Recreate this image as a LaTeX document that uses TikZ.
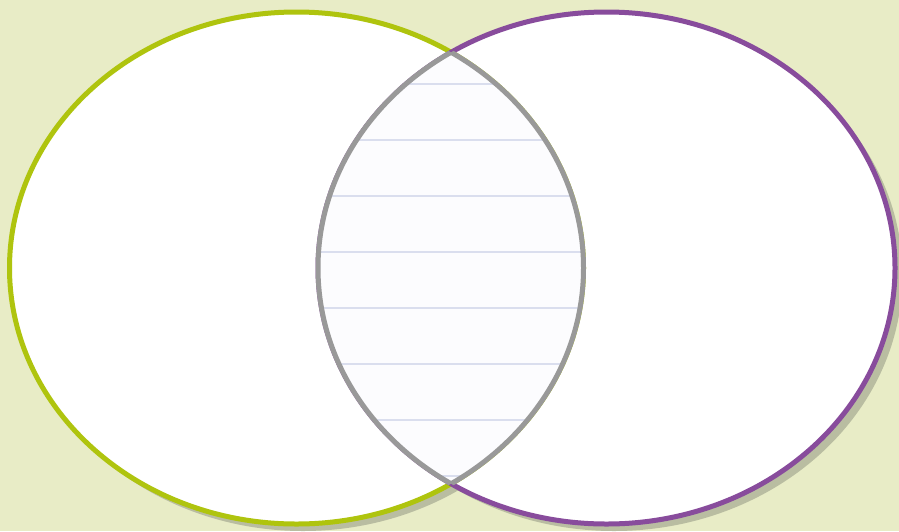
\documentclass[tikz,border=0pt]{standalone}
\definecolor{bgc}{HTML}{E8ECC6}
\definecolor{shc}{HTML}{B9BDA1}
\definecolor{grn}{HTML}{AFC40E}
\definecolor{prp}{HTML}{884C9C}
\definecolor{gry}{HTML}{999999}
\definecolor{rule}{HTML}{DADEEE}
\definecolor{paper}{HTML}{FCFCFE}
\tikzset{
  ring/.style={line width=5pt},
}
\begin{document}
\begin{tikzpicture}[x=1pt,y=-1pt]
\useasboundingbox (0,0) rectangle (899,531);
\fill[bgc] (0,0) rectangle (899,531);
\coordinate (L) at (296.5,268);
\coordinate (R) at (606.5,268);
\coordinate (Ls) at (303,275);
\coordinate (Rs) at (614,275);
% shadows
\fill[shc] (Ls) ellipse [x radius=287, y radius=256];
\fill[shc] (Rs) ellipse [x radius=288.5, y radius=256];
% circles
\fill[white] (L) ellipse [x radius=287, y radius=256];
\fill[white] (R) ellipse [x radius=288.5, y radius=256];
\draw[ring, grn] (L) ellipse [x radius=287, y radius=256];
\draw[ring, prp] (R) ellipse [x radius=288.5, y radius=256];
% lens
\begin{scope}
  \clip (L) ellipse [x radius=287, y radius=256];
  \fill[paper] (R) ellipse [x radius=288.5, y radius=256];
  \begin{scope}
    \clip (R) ellipse [x radius=288.5, y radius=256];
    \foreach \yy in {84,140,196,252,308,364,420,476}
      \draw[rule, line width=1.8pt] (300,\yy) -- (600,\yy);
  \end{scope}
  \draw[ring, gry] (R) ellipse [x radius=288.5, y radius=256];
\end{scope}
\begin{scope}
  \clip (R) ellipse [x radius=288.5, y radius=256];
  \draw[ring, gry] (L) ellipse [x radius=287, y radius=256];
\end{scope}
\end{tikzpicture}
\end{document}
